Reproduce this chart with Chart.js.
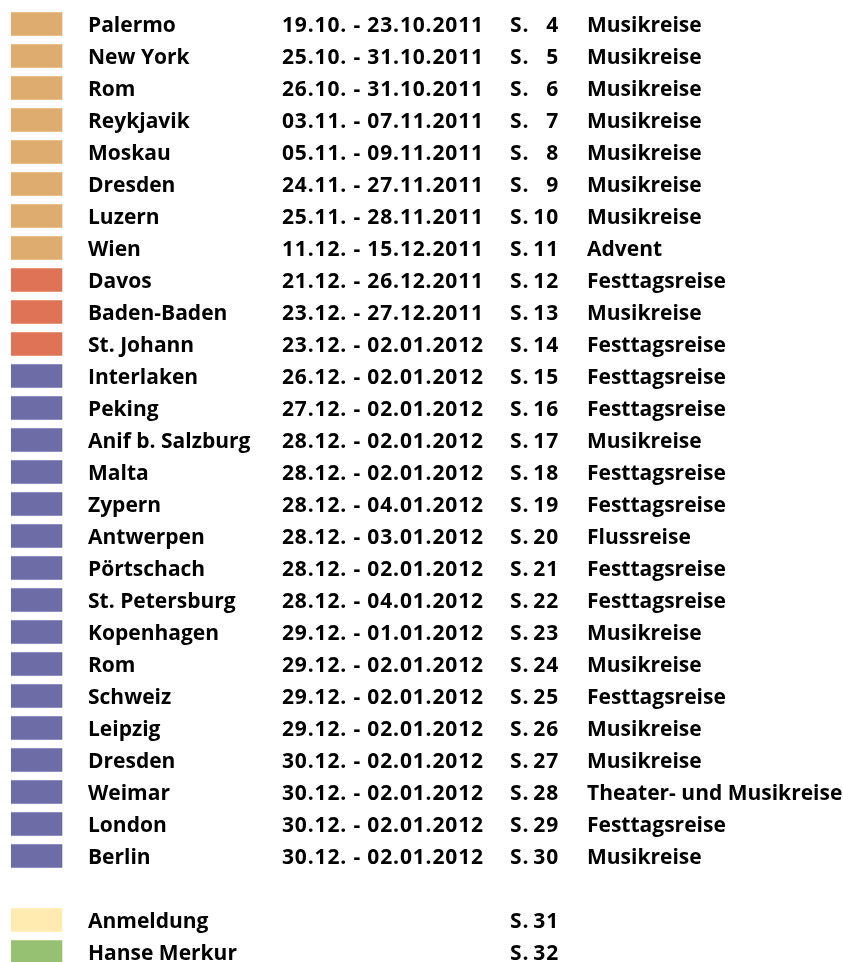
<!DOCTYPE html>
<html>
<head>
<meta charset="utf-8">
<script src="https://cdn.jsdelivr.net/npm/chart.js@4/dist/chart.umd.min.js"></script>
<style>
html,body{margin:0;padding:0;background:#fff;}
#wrap{width:843px;height:962px;position:relative;}
</style>
</head>
<body>
<div id="wrap"><canvas id="c"></canvas></div>
<script>
// ---- data (empty string = blank separator row) ----
const destinations = ["Palermo","New York","Rom","Reykjavik","Moskau","Dresden","Luzern","Wien","Davos","Baden-Baden","St. Johann","Interlaken","Peking","Anif b. Salzburg","Malta","Zypern","Antwerpen","Pörtschach","St. Petersburg","Kopenhagen","Rom","Schweiz","Leipzig","Dresden","Weimar","London","Berlin","","Anmeldung","Hanse Merkur"];
const dates = ["19.10. - 23.10.2011","25.10. - 31.10.2011","26.10. - 31.10.2011","03.11. - 07.11.2011","05.11. - 09.11.2011","24.11. - 27.11.2011","25.11. - 28.11.2011","11.12. - 15.12.2011","21.12. - 26.12.2011","23.12. - 27.12.2011","23.12. - 02.01.2012","26.12. - 02.01.2012","27.12. - 02.01.2012","28.12. - 02.01.2012","28.12. - 02.01.2012","28.12. - 04.01.2012","28.12. - 03.01.2012","28.12. - 02.01.2012","28.12. - 04.01.2012","29.12. - 01.01.2012","29.12. - 02.01.2012","29.12. - 02.01.2012","29.12. - 02.01.2012","30.12. - 02.01.2012","30.12. - 02.01.2012","30.12. - 02.01.2012","30.12. - 02.01.2012","","",""];
const pages = [4,5,6,7,8,9,10,11,12,13,14,15,16,17,18,19,20,21,22,23,24,25,26,27,28,29,30,null,31,32];
const tripTypes = ["Musikreise","Musikreise","Musikreise","Musikreise","Musikreise","Musikreise","Musikreise","Advent","Festtagsreise","Musikreise","Festtagsreise","Festtagsreise","Festtagsreise","Musikreise","Festtagsreise","Festtagsreise","Flussreise","Festtagsreise","Festtagsreise","Musikreise","Musikreise","Festtagsreise","Musikreise","Musikreise","Theater- und Musikreise","Festtagsreise","Musikreise","","",""];
const groups = ["autumn","autumn","autumn","autumn","autumn","autumn","autumn","autumn","christmas","christmas","christmas","newyear","newyear","newyear","newyear","newyear","newyear","newyear","newyear","newyear","newyear","newyear","newyear","newyear","newyear","newyear","newyear",null,"form","insurance"];
const swatchValues = groups.map(g => g ? 1 : null);

// ---- styles ----
const groupColors = {autumn:"#DDAC6E", christmas:"#DE7356", newyear:"#6D6CA7", form:"#FFEBB0", insurance:"#97C172"};
const FONT = "bold 21px 'Open Sans'";

const textPlugin = {
  id: "tableText",
  afterDatasetsDraw(chart) {
    const ctx = chart.ctx;
    const ys = chart.scales.y;
    const left = chart.chartArea.left;
    ctx.save();
    ctx.fillStyle = "#000";
    ctx.font = FONT;
    ctx.textBaseline = "alphabetic";
    destinations.forEach((name, i) => {
      if (!name) return;
      const y = ys.getPixelForValue(i) + 8;
      ctx.textAlign = "left";
      ctx.letterSpacing = "0px";
      ctx.fillText(name, left + 77, y);
      if (tripTypes[i]) ctx.fillText(tripTypes[i], left + 576, y);
      ctx.letterSpacing = "0.85px";
      if (dates[i]) ctx.fillText(dates[i], left + 271, y);
      if (pages[i] !== null) {
        ctx.fillText("S.", left + 499, y);
        ctx.textAlign = "right";
        ctx.fillText(String(pages[i]), left + 548, y);
        ctx.textAlign = "left";
      }
    });
    ctx.restore();
  }
};

new Chart(document.getElementById("c"), {
  type: "bar",
  data: {
    datasets: [{
      data: swatchValues.map((v, i) => ({x: v, y: i})),
      backgroundColor: groups.map(g => g ? groupColors[g] : "transparent"),
      borderWidth: 0,
      barThickness: 23
    }]
  },
  options: {
    indexAxis: "y",
    responsive: true,
    maintainAspectRatio: false,
    animation: false,
    layout: {padding: {left: 11, right: 0, top: 0, bottom: 0}},
    plugins: {legend: {display: false}, tooltip: {enabled: false}},
    scales: {
      x: {type: "linear", min: 0, max: 832 / 51, display: false, offset: false},
      y: {type: "linear", reverse: true, min: -0.75, max: 29.3125, display: false, offset: false}
    }
  },
  plugins: [textPlugin]
});
</script>
</body>
</html>
